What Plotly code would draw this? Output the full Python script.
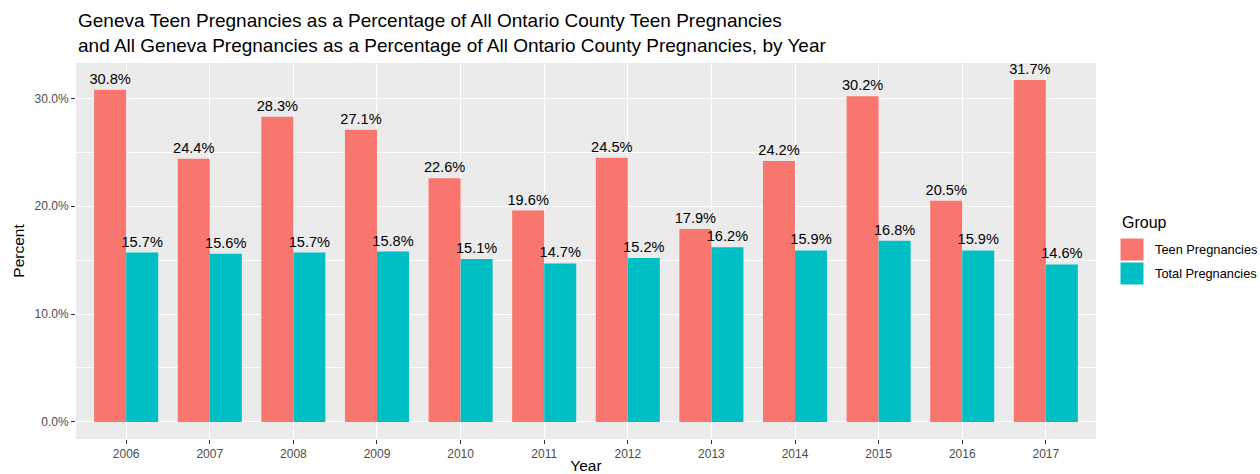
import plotly.graph_objects as go

years = ["2006", "2007", "2008", "2009", "2010", "2011", "2012", "2013", "2014", "2015", "2016", "2017"]
teen = [30.8, 24.4, 28.3, 27.1, 22.6, 19.6, 24.5, 17.9, 24.2, 30.2, 20.5, 31.7]
total = [15.7, 15.6, 15.7, 15.8, 15.1, 14.7, 15.2, 16.2, 15.9, 16.8, 15.9, 14.6]
groups = ["Teen Pregnancies", "Total Pregnancies"]
colors = ["#F8766D", "#00BFC4"]

FONT = "Liberation Sans, Arial, Helvetica, sans-serif"

L, R, T, B = 76, 164, 63, 35
W, H = 1260, 474
PW, PH = W - L - R, H - T - B

def px(x):
    return (x - L) / PW

def py(y):
    return 1 - (y - T) / PH

fig = go.Figure()
for name, vals, col in zip(groups, [teen, total], colors):
    fig.add_trace(go.Bar(
        x=years, y=vals, name=name, marker=dict(color=col, line=dict(width=0)),
        text=[f"{v:.1f}%" for v in vals], textposition="outside",
        textfont=dict(family=FONT, size=14.6, color="black"),
        constraintext="none",
        cliponaxis=False, showlegend=False,
    ))

ymax = max(teen + total)
pad = ymax * 0.05

fig.update_layout(
    width=W, height=H,
    margin=dict(l=L, r=R, t=T, b=B, autoexpand=False),
    paper_bgcolor="white", plot_bgcolor="#EBEBEB",
    barmode="group", bargap=0.234, bargroupgap=0,
    font=dict(family=FONT),
    xaxis=dict(
        type="category", range=[-0.6, len(years) - 0.4],
        showgrid=True, gridcolor="white", gridwidth=1.1,
        ticks="outside", ticklen=4, tickcolor="#333333", tickwidth=1,
        tickfont=dict(family=FONT, size=12, color="#4D4D4D"),
        title=dict(text="Year", font=dict(family=FONT, size=15.5, color="black"), standoff=3),
        zeroline=False, showline=False, fixedrange=True, automargin=False,
    ),
    yaxis=dict(
        range=[-pad, ymax + pad],
        tickvals=[0, 10, 20, 30], ticktext=["0.0%", "10.0%", "20.0%", "30.0%"],
        showgrid=True, gridcolor="white", gridwidth=1.1,
        minor=dict(tickvals=[5, 15, 25], showgrid=True, gridcolor="white", gridwidth=0.5, ticks=""),
        ticks="outside", ticklen=4, tickcolor="#333333", tickwidth=1,
        tickfont=dict(family=FONT, size=12, color="#4D4D4D"),
        title=dict(text="Percent", font=dict(family=FONT, size=15.5, color="black"), standoff=6),
        zeroline=False, showline=False, fixedrange=True, automargin=False,
    ),
)

# title as annotation (ggplot style, left-aligned to panel)
fig.add_annotation(
    xref="paper", yref="paper", x=0, y=py(58), xanchor="left", yanchor="bottom",
    text="Geneva Teen Pregnancies as a Percentage of All Ontario County Teen Pregnancies<br>and All Geneva Pregnancies as a Percentage of All Ontario County Pregnancies, by Year",
    showarrow=False, align="left",
    font=dict(family=FONT, size=19, color="black"),
)

# legend drawn manually (ggplot style)
fig.add_annotation(
    xref="paper", yref="paper", x=px(1120), y=py(222),
    text="Group", showarrow=False, xanchor="left", yanchor="middle",
    font=dict(family=FONT, size=16, color="black"),
)
key_tops = [238, 262]
for i, (name, col) in enumerate(zip(groups, colors)):
    y0 = key_tops[i]
    fig.add_shape(
        type="rect", xref="paper", yref="paper",
        x0=px(1120), x1=px(1144),
        y0=py(y0 + 23), y1=py(y0),
        fillcolor=col, line=dict(width=1, color="white"), layer="above",
    )
    fig.add_annotation(
        xref="paper", yref="paper", x=px(1153), y=py(y0 + 11.5),
        text=name, showarrow=False, xanchor="left", yanchor="middle",
        font=dict(family=FONT, size=12.8, color="black"),
    )

fig.write_html(
    "out.html",
    config={"displayModeBar": False},
    post_script="document.body.style.margin='0';document.body.style.padding='0';",
)
